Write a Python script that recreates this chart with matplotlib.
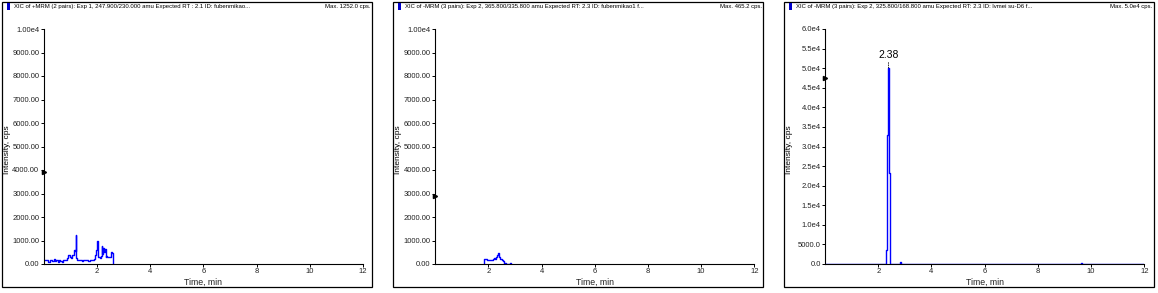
import matplotlib
matplotlib.use("Agg")
import matplotlib.pyplot as plt
from matplotlib.patches import Rectangle

plt.rcParams['font.family'] = ['Liberation Sans', 'DejaVu Sans']

# ---------------- data ----------------
titles = [
    "XIC of +MRM (2 pairs): Exp 1, 247.900/230.000 amu Expected RT : 2.1 ID: fubenmikao...",
    "XIC of -MRM (3 pairs): Exp 2, 365.800/335.800 amu Expected RT: 2.3 ID: fubenmikao1 f...",
    "XIC of -MRM (3 pairs): Exp 2, 325.800/168.800 amu Expected RT: 2.3 ID: lvmei su-D6 f...",
]
max_labels = ["Max. 1252.0 cps.", "Max. 465.2 cps.", "Max. 5.0e4 cps."]

x_ticks = [2, 4, 6, 8, 10, 12]
x_ticklabels = ["2", "4", "6", "8", "10", "12"]

y_ticks_a = [0, 1000, 2000, 3000, 4000, 5000, 6000, 7000, 8000, 9000, 10000]
y_ticklabels_a = ["0.00", "1000.00", "2000.00", "3000.00", "4000.00", "5000.00",
                  "6000.00", "7000.00", "8000.00", "9000.00", "1.00e4"]
y_ticks_c = [0, 5000, 10000, 15000, 20000, 25000, 30000, 35000, 40000, 45000,
             50000, 55000, 60000]
y_ticklabels_c = ["0.0", "5000.0", "1.0e4", "1.5e4", "2.0e4", "2.5e4", "3.0e4",
                  "3.5e4", "4.0e4", "4.5e4", "5.0e4", "5.5e4", "6.0e4"]

t1 = [0.05, 0.10, 0.15, 0.20, 0.25, 0.30, 0.35, 0.40, 0.45, 0.50, 0.55, 0.60,
      0.65, 0.70, 0.75, 0.80, 0.85, 0.90, 0.95, 1.00, 1.05, 1.10, 1.15, 1.18,
      1.21, 1.24, 1.27, 1.30, 1.35, 1.40, 1.45, 1.50, 1.55, 1.60, 1.65, 1.70,
      1.75, 1.80, 1.85, 1.90, 1.95, 1.98, 2.01, 2.04, 2.07, 2.10, 2.13, 2.16,
      2.19, 2.22, 2.25, 2.28, 2.31, 2.34, 2.37, 2.40, 2.43, 2.46, 2.49, 2.52,
      2.55, 2.58, 2.61]
i1 = [180, 150, 170, 70, 160, 150, 140, 200, 130, 150, 80, 160,
      140, 90, 160, 150, 170, 250, 380, 300, 250, 400, 600, 560,
      1252, 260, 170, 180, 150, 170, 140, 180, 160, 150, 170, 140,
      180, 160, 170, 200, 380, 600, 980, 600, 280, 300, 260, 330,
      750, 420, 670, 510, 640, 300, 320, 290, 300, 310, 300, 300,
      520, 480, 0]

t2 = [1.82, 1.86, 1.90, 1.94, 1.98, 2.02, 2.06, 2.10, 2.14, 2.18, 2.22, 2.26,
      2.30, 2.34, 2.37, 2.40, 2.43, 2.46, 2.50, 2.54, 2.58, 2.62, 2.66, 2.70,
      2.80, 2.83, 2.86]
i2 = [0, 200, 215, 210, 180, 175, 190, 170, 180, 220, 260, 200,
      300, 380, 465, 320, 290, 230, 210, 180, 140, 0, 40, 0,
      0, 35, 0]

t3 = [0.05, 2.27, 2.30, 2.33, 2.35, 2.38, 2.41, 2.44, 2.80, 2.84, 2.88, 9.60,
      9.64, 9.68, 11.95]
i3 = [0, 0, 3600, 32900, 33000, 50000, 23200, 0, 0, 600, 0, 0,
      300, 0, 0]

peak_rt = 2.38
peak_height = 50000
peak_label = "2.38"

marker_levels = [3900, 2900, 47500]

panels = [
    dict(t=t1, y=i1, yt=y_ticks_a, ytl=y_ticklabels_a, ymax=10000),
    dict(t=t2, y=i2, yt=y_ticks_a, ytl=y_ticklabels_a, ymax=10000),
    dict(t=t3, y=i3, yt=y_ticks_c, ytl=y_ticklabels_c, ymax=60000),
]

# ---------------- layout ----------------
W, H = 1158, 293
fig = plt.figure(figsize=(W / 100, H / 100), dpi=100)


def fx(x):
    return x / W


def fy(y):
    return 1 - y / H


offsets = [0, 391.3, 781.3]
frame_left = [2, 393, 784]
frame_w = 370
tick_color = '#222222'
blue = '#0000ff'
narrow = ['Liberation Sans Narrow', 'Liberation Sans']

for k, p in enumerate(panels):
    dx = offsets[k]
    # outer frame
    fig.patches.append(Rectangle((fx(frame_left[k]), fy(287)), fx(frame_w),
                                 fy(2) - fy(287), transform=fig.transFigure,
                                 fill=False, edgecolor='black', linewidth=0.9))
    # header
    fig.patches.append(Rectangle((fx(frame_left[k] + 4.5), fy(9.5)), fx(3.2),
                                 fy(3) - fy(9.5), transform=fig.transFigure,
                                 facecolor='#0000cc', edgecolor='none'))
    fig.text(fx(frame_left[k] + 12), fy(6.3), titles[k], fontsize=4.3,
             va='center', ha='left', family=narrow)
    fig.text(fx(frame_left[k] + frame_w - 1.5), fy(6.3), max_labels[k], fontsize=4.3,
             va='center', ha='right', family=narrow)

    left = 43.8 + dx
    right = 363 + dx
    ax = fig.add_axes([fx(left), fy(264), fx(right - left), fy(29) - fy(264)])
    ax.set_facecolor('none')
    ax.plot(p['t'], p['y'], color=blue, linewidth=1.0, drawstyle='steps-mid')
    ax.set_xlim(0, 12)
    ax.set_ylim(0, p['ymax'])
    for s in ['top', 'right']:
        ax.spines[s].set_visible(False)
    for s in ['left', 'bottom']:
        ax.spines[s].set_linewidth(0.8)
    ax.set_xticks(x_ticks)
    ax.set_xticklabels(x_ticklabels)
    ax.set_yticks(p['yt'])
    ax.set_yticklabels(p['ytl'])
    ax.tick_params(axis='both', length=2, width=0.7, pad=1.2,
                   labelsize=5.5, labelcolor=tick_color)
    ax.set_xlabel("Time, min", fontsize=6.3, labelpad=1.5, color=tick_color)
    # position marker on y axis
    ax.plot([0], [marker_levels[k]], marker='>', color='black', markersize=3,
            clip_on=False, linestyle='none')
    fig.text(fx(frame_left[k] + 5.5), fy(150), "Intensity, cps", rotation=90,
             fontsize=6, ha='center', va='center', color='black')

    if k == 2:
        ax.annotate(peak_label, xy=(peak_rt, peak_height),
                    xytext=(0, 6), textcoords='offset points',
                    ha='center', va='bottom', fontsize=7.5,
                    arrowprops=dict(arrowstyle='-', linestyle=':', color='black',
                                    linewidth=0.6, shrinkA=0, shrinkB=0))

fig.savefig("out.png", dpi=100)
